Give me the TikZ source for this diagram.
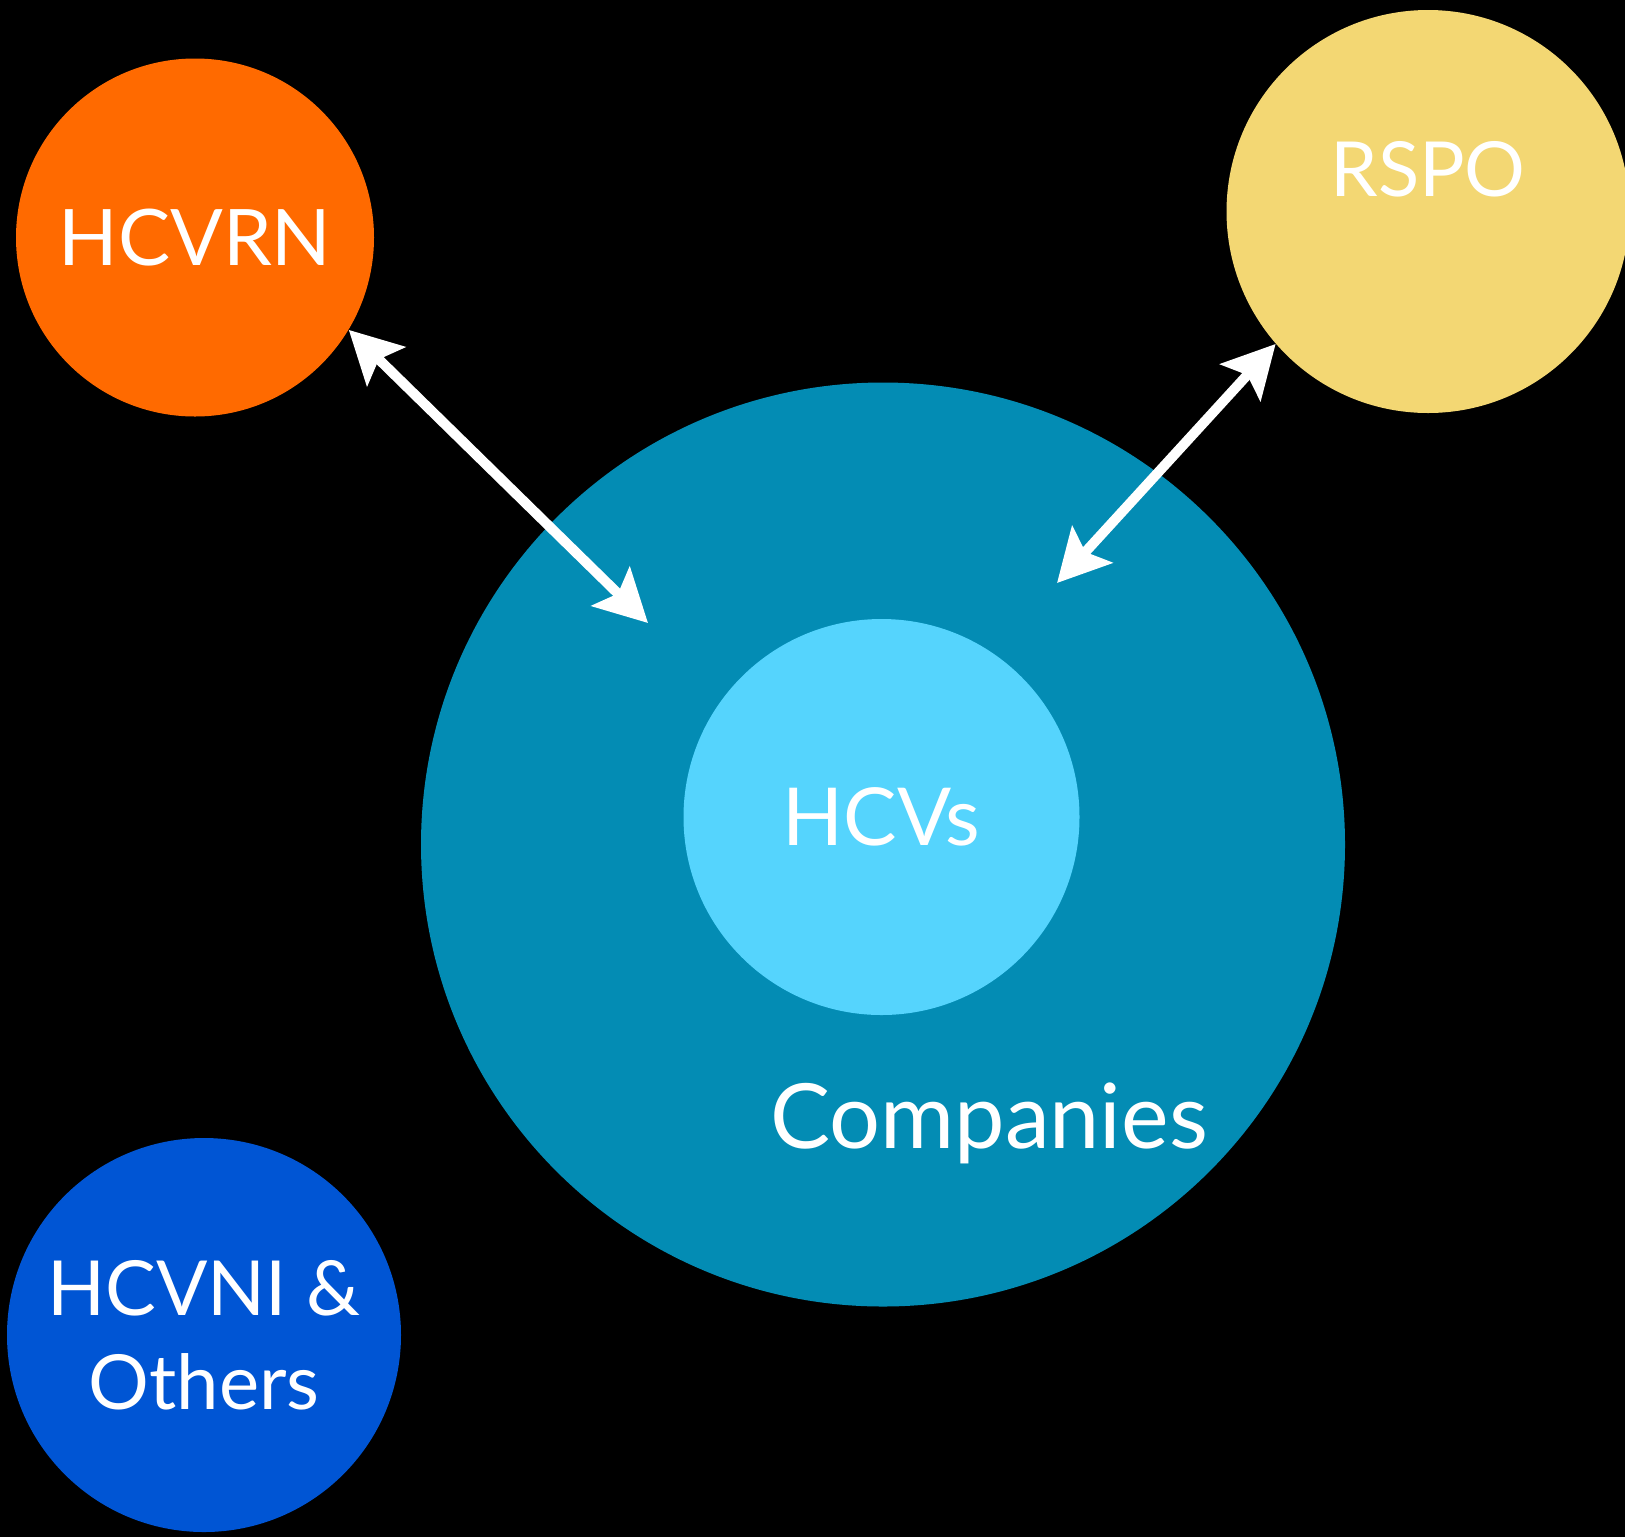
\documentclass[tikz,border=0pt]{standalone}
\usepackage{fontspec}
\setmainfont{Lato}
\usetikzlibrary{arrows.meta,calc,positioning}
\definecolor{hcvorange}{RGB}{255,106,0}
\definecolor{rspogold}{RGB}{243,215,115}
\definecolor{compteal}{RGB}{3,140,180}
\definecolor{hcvcyan}{RGB}{85,212,253}
\definecolor{hcvblue}{RGB}{0,85,212}
\tikzset{%
	group/.style  = {circle, inner sep=0pt, text=white}, % Circle
	txt/.style    = {text=white, inner sep=0pt}, % Label
	link/.style   = {white, line width=5pt, {Stealth[length=26pt,width=27pt,inset=5pt]}-{Stealth[length=26pt,width=27pt,inset=5pt]}}, % Two way
	big/.style    = {font=\fontsize{38}{47}\selectfont},
}

\begin{document}
\begin{tikzpicture}[x=0.5pt,y=-0.5pt]
	\fill[black] (0,0) rectangle (1625,1537);
	\useasboundingbox (0,0) rectangle (1625,1537);
	\node[group, fill=compteal, minimum size=462pt] (comp) at (883,844.5) {};
	\node[group, fill=hcvcyan, minimum size=198pt, font=\fontsize{40}{47}\selectfont] (hcv) at (881.5,817) {HCVs};
	\node[txt, anchor=base, font=\fontsize{45}{54}\selectfont] (complbl) at (989,1148) {Companies};
	\node[group, fill=hcvorange, minimum size=179pt, font=\fontsize{39}{47}\selectfont] (hcvrn) at (195,237.5) {HCVRN};
	\node[group, fill=rspogold, minimum size=201.5pt] (rspo) at (1428,211.5) {};
	\node[txt, big] (rspolbl) at ([yshift=21pt]rspo.center) {RSPO};
	\node[group, fill=hcvblue, minimum size=197pt, big, align=center] (hcvni) at (204,1335) {HCVNI \&\\Others};
	\coordinate (inl) at (648,623);
	\coordinate (inr) at (1057,583);
	\draw[link] (hcvrn.-31.4) -- (inl);
	\draw[link] (rspo.-139.5) -- (inr);
\end{tikzpicture}
\end{document}
